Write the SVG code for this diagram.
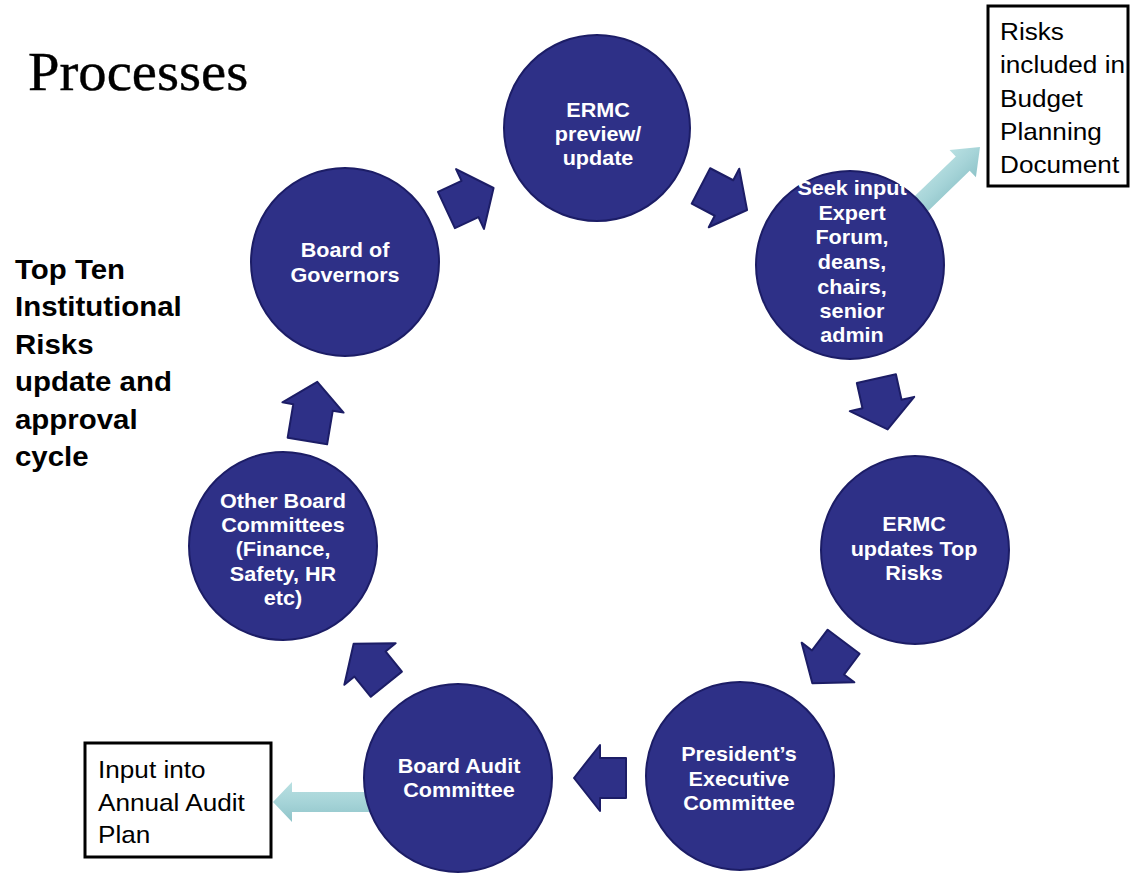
<svg xmlns="http://www.w3.org/2000/svg" width="1130" height="878" viewBox="0 0 1130 878">
<style>
.node{fill:#2e3087;stroke:#1c1d66;stroke-width:2}
.nt{font-family:"Liberation Sans",Arial,sans-serif;font-weight:bold;font-size:20px;fill:#ffffff;text-anchor:middle}
.arr{fill:#2e3087;stroke:#1c1d66;stroke-width:2;stroke-linejoin:round}
.box{fill:#ffffff;stroke:#000000;stroke-width:3}
.bt{font-family:"Liberation Sans",Arial,sans-serif;font-size:24px;fill:#000000}
.side{font-family:"Liberation Sans",Arial,sans-serif;font-weight:bold;font-size:27px;fill:#000000}
.title{font-family:"Liberation Serif","Times New Roman",serif;font-size:55px;fill:#000000;stroke:#000000;stroke-width:0.4}
</style>
<defs>
<linearGradient id="teal" x1="0" y1="0" x2="0" y2="1">
<stop offset="0" stop-color="#b9e0e2"/>
<stop offset="0.5" stop-color="#a6d4d8"/>
<stop offset="1" stop-color="#8fc4c9"/>
</linearGradient>
<path id="darr" d="M-26,-20 L0,-20 L0,-33 L26,0 L0,33 L0,20 L-26,20 Z"/>
</defs>
<rect width="1130" height="878" fill="#ffffff"/>
<text class="title" x="0" y="90" transform="translate(28,0) scale(1.03,1)">Processes</text>
<g id="side-label" transform="translate(15,0) scale(1.09,1)">
<text class="side" x="0" y="279">Top Ten</text>
<text class="side" x="0" y="316">Institutional</text>
<text class="side" x="0" y="354">Risks</text>
<text class="side" x="0" y="391">update and</text>
<text class="side" x="0" y="429">approval</text>
<text class="side" x="0" y="466">cycle</text>
</g>
<g id="connectors">
<path fill="url(#teal)" transform="translate(980,147) rotate(-44)" d="M0,0 L-24,-19 L-24,-10 L-90,-10 L-90,10 L-24,10 L-24,19 Z"/>
<path fill="url(#teal)" transform="translate(273,802)" d="M0,0 L19,-20 L19,-10 L110,-10 L110,10 L19,10 L19,20 Z"/>
<use href="#darr" class="arr" transform="translate(470,199) rotate(-25)"/>
<use href="#darr" class="arr" transform="translate(724,198) rotate(27.5)"/>
<use href="#darr" class="arr" transform="translate(882,404) rotate(77.5)"/>
<use href="#darr" class="arr" transform="translate(828,662.5) rotate(127)"/>
<use href="#darr" class="arr" transform="translate(600,778) rotate(180)"/>
<use href="#darr" class="arr" transform="translate(370,664) rotate(231)"/>
<path class="arr" transform="translate(313,407.5) rotate(-80.5)" d="M-34,-20 L0,-20 L0,-31 L26,0 L0,31 L0,20 L-34,20 Z"/>
</g>
<g id="n-ermc-preview">
<circle class="node" cx="597" cy="128" r="93"/>
<g transform="translate(598,0) scale(1.08,1)">
<text class="nt" x="0" y="117">ERMC</text>
<text class="nt" x="0" y="141">preview/</text>
<text class="nt" x="0" y="165">update</text>
</g>
</g>
<g id="n-seek-input">
<circle class="node" cx="850" cy="265" r="94"/>
<g transform="translate(852,0) scale(1.08,1)">
<text class="nt" x="0" y="195">Seek input</text>
<text class="nt" x="0" y="220">Expert</text>
<text class="nt" x="0" y="244">Forum,</text>
<text class="nt" x="0" y="269">deans,</text>
<text class="nt" x="0" y="294">chairs,</text>
<text class="nt" x="0" y="318">senior</text>
<text class="nt" x="0" y="342">admin</text>
</g>
</g>
<g id="n-ermc-updates">
<circle class="node" cx="915" cy="550" r="94"/>
<g transform="translate(914,0) scale(1.08,1)">
<text class="nt" x="0" y="531">ERMC</text>
<text class="nt" x="0" y="556">updates Top</text>
<text class="nt" x="0" y="580">Risks</text>
</g>
</g>
<g id="n-president">
<circle class="node" cx="740" cy="776" r="94"/>
<g transform="translate(739,0) scale(1.08,1)">
<text class="nt" x="0" y="761">President’s</text>
<text class="nt" x="0" y="786">Executive</text>
<text class="nt" x="0" y="810">Committee</text>
</g>
</g>
<g id="n-board-audit">
<circle class="node" cx="458" cy="778" r="94"/>
<g transform="translate(459,0) scale(1.08,1)">
<text class="nt" x="0" y="773">Board Audit</text>
<text class="nt" x="0" y="797">Committee</text>
</g>
</g>
<g id="n-other-board">
<circle class="node" cx="283" cy="546" r="94"/>
<g transform="translate(283,0) scale(1.08,1)">
<text class="nt" x="0" y="508">Other Board</text>
<text class="nt" x="0" y="532">Committees</text>
<text class="nt" x="0" y="556">(Finance,</text>
<text class="nt" x="0" y="581">Safety, HR</text>
<text class="nt" x="0" y="605">etc)</text>
</g>
</g>
<g id="n-board-governors">
<circle class="node" cx="345" cy="262" r="94"/>
<g transform="translate(345,0) scale(1.08,1)">
<text class="nt" x="0" y="257">Board of</text>
<text class="nt" x="0" y="282">Governors</text>
</g>
</g>
<g id="n-budget-box">
<rect class="box" x="988" y="6" width="140" height="180"/>
<g transform="translate(1000,0) scale(1.09,1)">
<text class="bt" x="0" y="40">Risks</text>
<text class="bt" x="0" y="73">included in</text>
<text class="bt" x="0" y="107">Budget</text>
<text class="bt" x="0" y="140">Planning</text>
<text class="bt" x="0" y="173">Document</text>
</g>
</g>
<g id="n-audit-box">
<rect class="box" x="85" y="743" width="186" height="114"/>
<g transform="translate(98,0) scale(1.09,1)">
<text class="bt" x="0" y="778">Input into</text>
<text class="bt" x="0" y="811">Annual Audit</text>
<text class="bt" x="0" y="843">Plan</text>
</g>
</g>
</svg>
